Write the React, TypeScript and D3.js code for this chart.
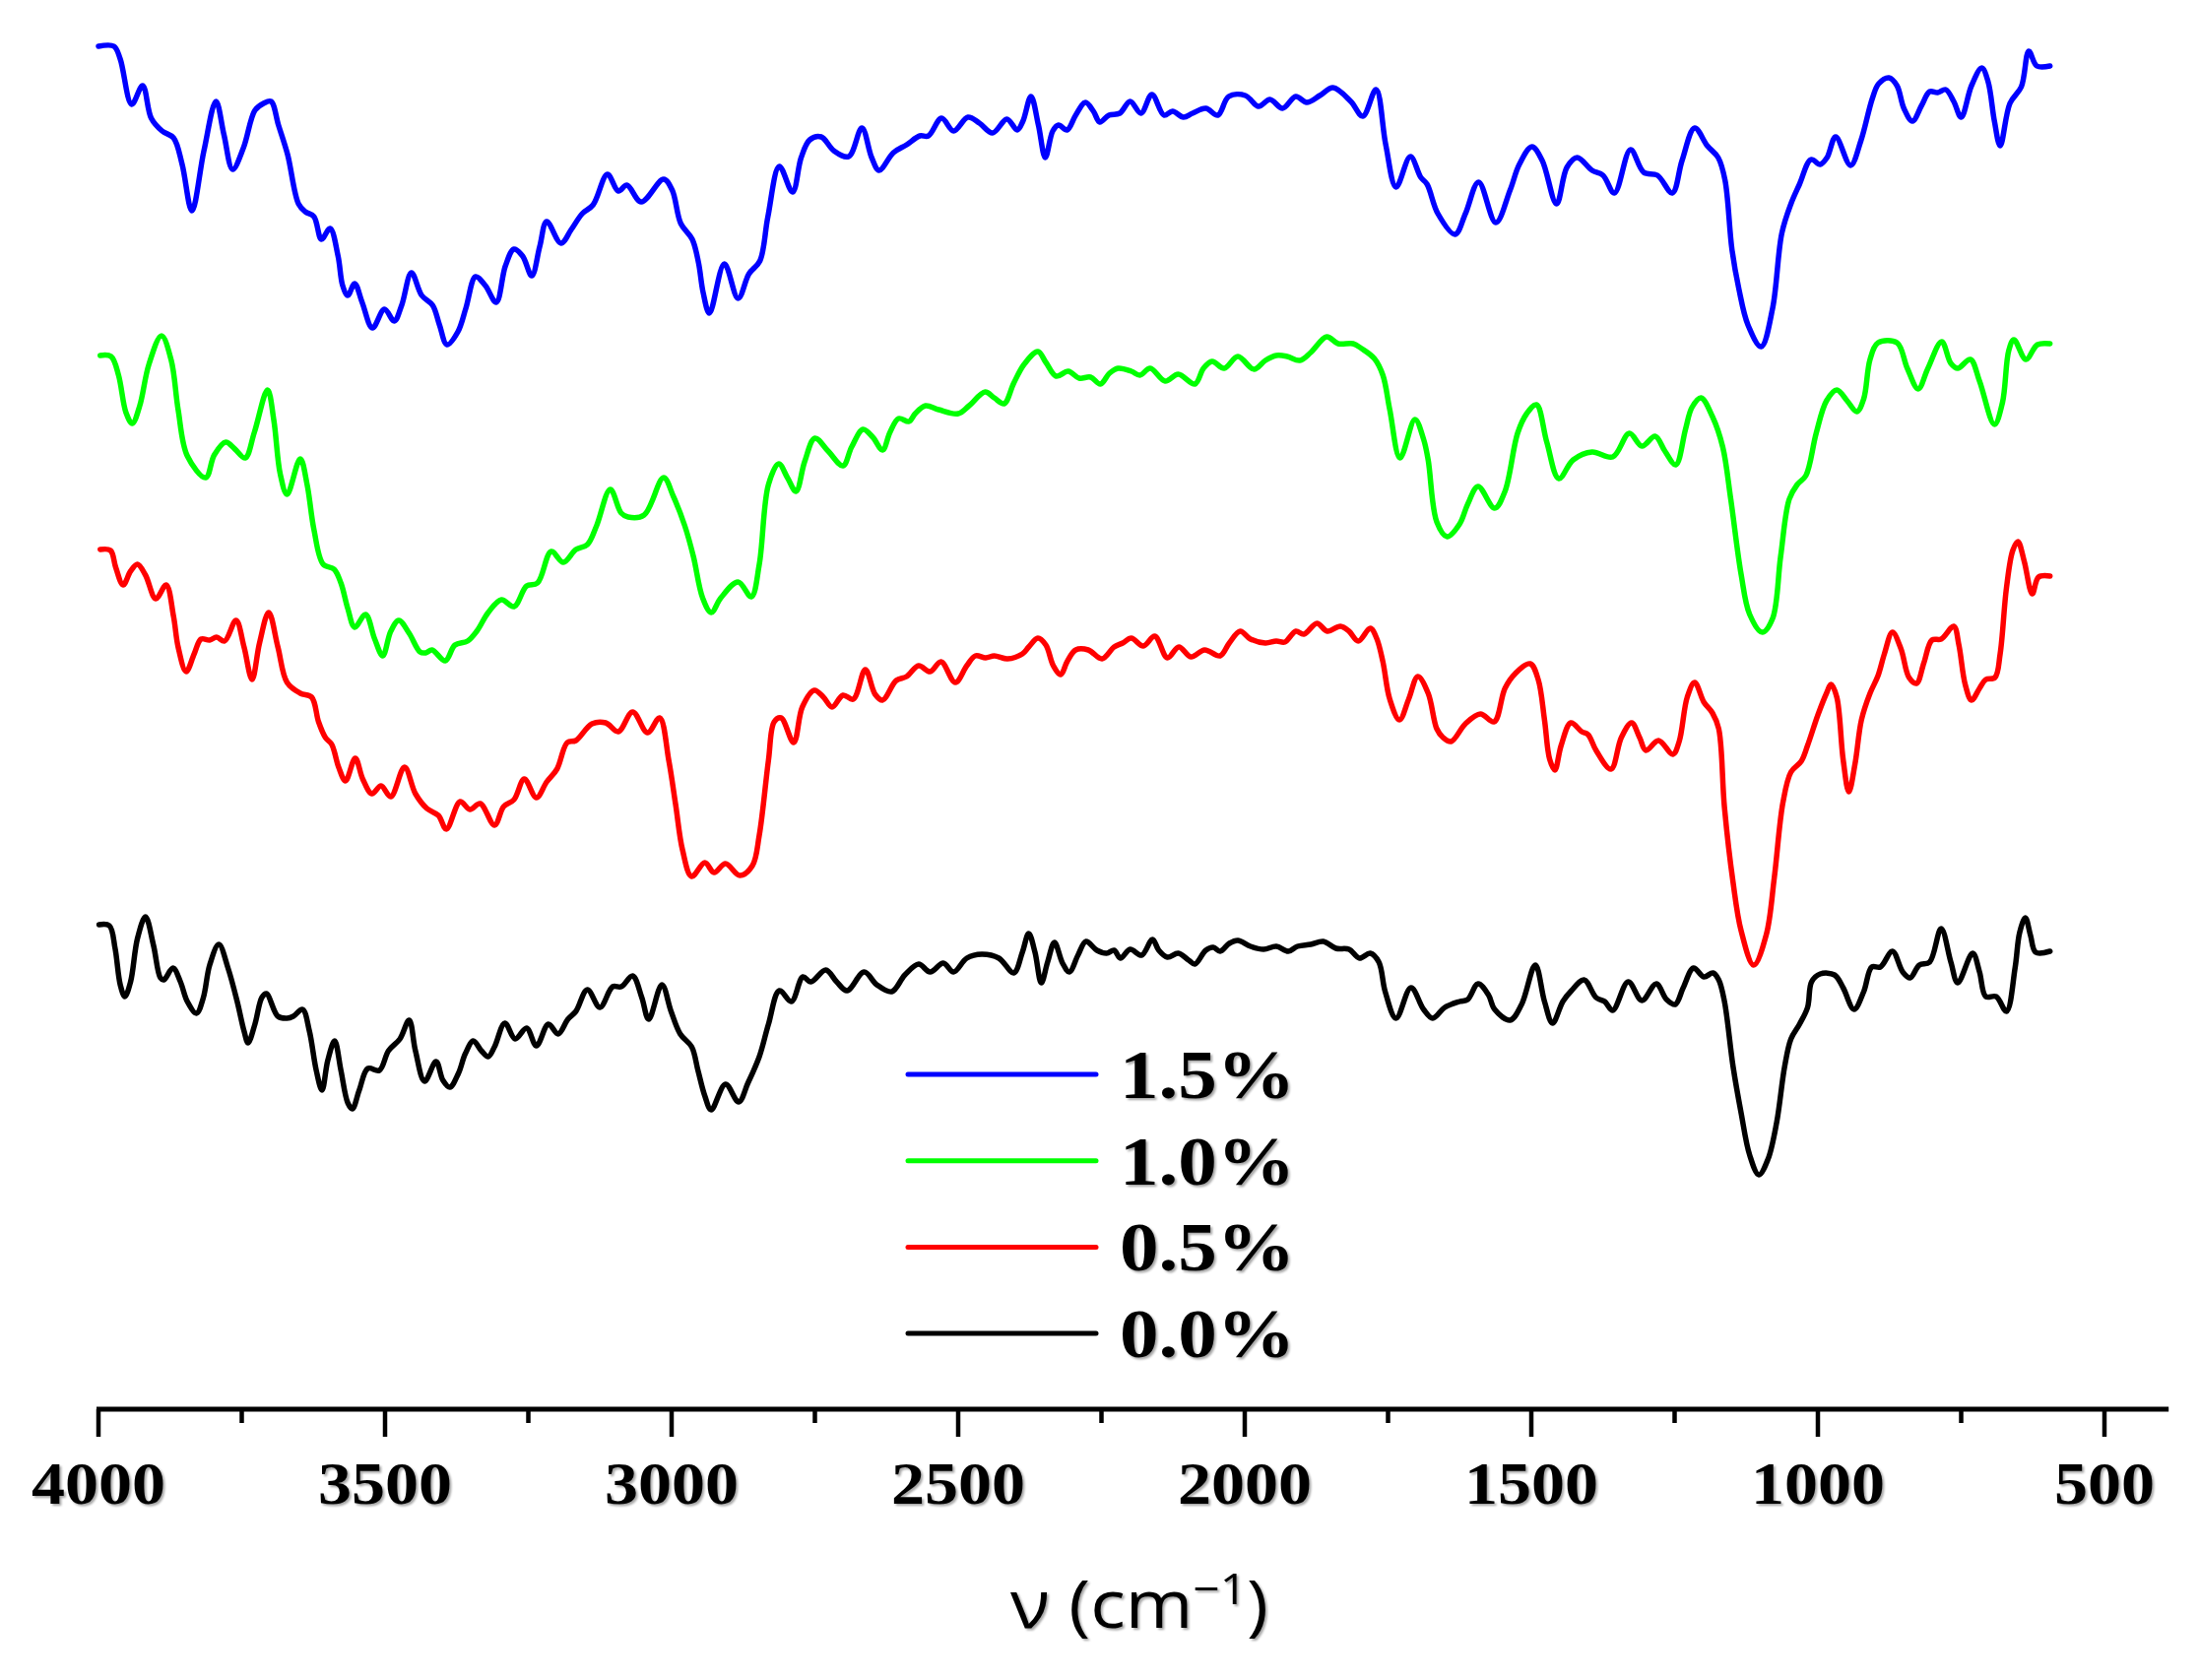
import React from "react";
import * as d3 from "d3";

// FTIR spectra, [wavenumber cm-1, transmittance a.u.]
const ftir15: [number, number][] = [
  [4000,138.4],[3973,138.4],[3962,137.1],[3942,132.5],[3923,134.4],[3908,131.1],[3889,129.8],[3869,129.1],[3854,126.4],[3837,121.7],
  [3816,127.8],[3795,132.8],[3781,129.4],[3766,125.9],[3747,128.1],[3727,131.9],[3712,132.6],[3699,132.8],[3686,130.4],[3670,127.4],
  [3651,122.4],[3639,121.6],[3624,121.1],[3611,118.8],[3596,119.9],[3582,117.1],[3574,114.1],[3565,113.1],[3553,114.3],[3540,112.4],
  [3522,109.8],[3501,111.7],[3484,110.5],[3471,112.1],[3454,115.4],[3436,113.1],[3417,112.1],[3405,110.1],[3392,108.1],[3373,109.4],
  [3359,111.8],[3342,115.0],[3325,114.1],[3306,112.4],[3290,116.1],[3275,117.8],[3260,117.1],[3244,115.1],[3230,118.1],[3218,120.6],
  [3193,118.4],[3175,119.8],[3156,121.4],[3137,122.3],[3112,125.4],[3093,123.7],[3078,124.3],[3053,122.6],[3014,124.9],[2999,123.8],
  [2984,120.4],[2964,118.8],[2953,116.4],[2945,113.4],[2934,111.3],[2908,116.3],[2884,112.8],[2865,115.3],[2846,116.6],[2832,121.1],
  [2812,126.2],[2789,123.6],[2774,127.1],[2759,128.9],[2739,129.2],[2717,127.8],[2691,127.2],[2668,130.1],[2651,127.1],[2638,125.8],
  [2613,127.6],[2590,128.4],[2567,129.3],[2552,129.3],[2529,131.1],[2508,129.8],[2483,131.2],[2463,130.6],[2440,129.6],[2415,131.0],
  [2397,129.9],[2387,130.8],[2373,133.3],[2360,130.4],[2348,127.1],[2335,129.8],[2325,130.4],[2310,129.9],[2295,131.4],[2278,132.7],
  [2264,131.8],[2253,130.7],[2237,131.4],[2218,131.6],[2200,132.8],[2181,131.6],[2162,133.5],[2141,131.4],[2126,131.8],[2107,131.2],
  [2091,131.6],[2068,132.1],[2047,131.4],[2028,133.3],[1999,133.4],[1976,132.3],[1956,133.0],[1934,132.1],[1911,133.3],[1892,132.7],
  [1869,133.4],[1846,134.2],[1815,132.8],[1794,131.3],[1771,134.0],[1754,128.4],[1736,124.1],[1711,127.2],[1693,125.1],[1682,124.4],
  [1663,121.4],[1633,119.3],[1615,121.4],[1592,124.6],[1562,120.5],[1537,123.8],[1521,126.4],[1499,128.2],[1481,126.8],[1456,122.4],
  [1438,126.1],[1420,127.1],[1394,125.8],[1375,125.3],[1355,123.5],[1327,127.9],[1304,125.6],[1280,125.3],[1254,123.5],[1237,126.8],
  [1215,130.1],[1193,128.3],[1174,127.1],[1162,124.8],[1150,117.8],[1138,113.8],[1122,110.1],[1099,107.9],[1079,111.8],[1063,119.4],
  [1047,122.4],[1032,124.4],[1012,126.9],[996,126.4],[984,127.1],[969,129.2],[943,126.3],[925,128.8],[905,133.1],[894,134.6],
  [876,135.2],[862,134.4],[850,132.1],[835,130.8],[819,132.4],[805,133.8],[791,133.7],[777,134.0],[763,132.8],[750,131.2],
  [732,134.4],[714,136.2],[703,134.8],[692,130.8],[682,128.3],[665,132.6],[645,134.3],[632,137.9],[618,136.4],[595,136.4],
];

const ftir10: [number, number][] = [
  [3997,107.0],[3978,106.9],[3965,105.0],[3952,101.2],[3941,100.1],[3928,101.9],[3912,106.1],[3890,109.0],[3873,106.5],[3861,101.5],
  [3845,96.8],[3813,94.6],[3798,96.9],[3778,98.2],[3762,97.5],[3744,96.6],[3728,99.2],[3705,103.5],[3694,100.4],[3683,95.0],
  [3671,92.9],[3648,96.5],[3636,93.9],[3624,89.3],[3608,85.8],[3589,85.3],[3577,83.9],[3565,81.3],[3553,79.4],[3534,80.7],
  [3518,78.2],[3504,76.5],[3490,79.0],[3476,80.1],[3458,78.8],[3439,76.9],[3429,76.8],[3418,77.1],[3395,76.0],[3378,77.6],
  [3356,78.0],[3340,79.0],[3320,80.9],[3297,82.2],[3275,81.5],[3253,83.6],[3234,83.9],[3210,87.1],[3189,86.0],[3167,87.3],
  [3147,87.8],[3131,89.7],[3107,93.4],[3088,91.0],[3076,90.6],[3048,90.8],[3014,94.6],[2997,92.7],[2977,89.7],[2962,86.6],
  [2946,82.4],[2931,80.9],[2914,82.4],[2884,84.0],[2861,82.5],[2847,85.8],[2831,93.9],[2813,96.0],[2798,94.6],[2783,93.2],
  [2768,96.2],[2750,98.6],[2727,97.3],[2701,95.8],[2686,97.7],[2666,99.5],[2649,98.7],[2632,97.4],[2619,99.2],[2604,100.6],
  [2586,100.3],[2575,101.1],[2557,101.9],[2534,101.5],[2500,101.1],[2481,101.9],[2453,103.3],[2437,102.7],[2420,102.1],[2403,104.2],
  [2385,106.1],[2361,107.4],[2347,106.3],[2329,104.9],[2308,105.4],[2289,104.7],[2269,104.8],[2252,104.1],[2236,105.2],[2221,105.7],
  [2198,105.4],[2183,105.0],[2165,105.7],[2139,104.4],[2116,105.1],[2087,104.1],[2072,105.7],[2057,106.4],[2036,105.7],[2012,106.9],
  [1984,105.6],[1964,106.5],[1945,107.0],[1926,106.9],[1904,106.5],[1885,107.3],[1857,108.9],[1837,108.2],[1811,108.2],[1796,107.7],
  [1774,106.7],[1759,105.0],[1747,101.5],[1729,96.6],[1703,100.5],[1688,98.5],[1680,96.4],[1665,90.1],[1647,88.6],[1625,89.9],
  [1611,91.9],[1593,93.7],[1564,91.5],[1546,93.2],[1524,99.1],[1508,101.1],[1491,102.0],[1473,98.2],[1452,94.5],[1427,96.4],
  [1394,97.2],[1358,96.7],[1329,99.1],[1307,97.8],[1284,98.8],[1267,97.3],[1248,95.9],[1231,99.5],[1220,101.7],[1204,102.7],
  [1184,100.8],[1166,97.7],[1152,92.4],[1134,84.8],[1119,80.7],[1097,78.9],[1079,80.3],[1065,86.6],[1050,92.4],[1036,93.9],
  [1021,94.8],[1003,99.1],[985,102.4],[967,103.5],[949,102.4],[932,101.3],[920,102.6],[909,106.6],[895,108.3],[862,108.3],
  [844,105.7],[825,103.6],[808,105.7],[784,108.4],[768,106.2],[756,105.7],[734,106.6],[718,104.4],[692,100.0],[678,102.2],
  [667,107.5],[658,108.6],[637,106.6],[617,108.1],[595,108.2],
];

const ftir05: [number, number][] = [
  [3997,87.3],[3979,87.2],[3970,85.5],[3957,83.7],[3944,85.1],[3932,85.8],[3918,84.7],[3900,82.3],[3882,83.7],[3869,80.5],
  [3861,77.4],[3847,74.9],[3833,76.7],[3821,78.2],[3806,78.1],[3794,78.4],[3780,78.0],[3760,80.1],[3746,77.4],[3732,74.1],
  [3719,77.8],[3703,80.9],[3687,77.4],[3671,73.8],[3648,72.7],[3628,72.3],[3616,69.8],[3604,68.2],[3593,67.5],[3581,65.2],
  [3569,63.8],[3552,66.1],[3539,64.0],[3523,62.5],[3507,63.3],[3490,62.2],[3466,65.2],[3447,62.5],[3427,61.0],[3407,60.3],
  [3393,58.9],[3369,61.7],[3352,60.9],[3334,61.5],[3309,59.3],[3293,61.2],[3275,61.9],[3257,64.0],[3236,62.1],[3218,63.7],
  [3200,65.0],[3182,67.7],[3167,67.9],[3139,69.6],[3115,69.7],[3093,68.8],[3068,70.8],[3042,68.7],[3021,70.2],[3005,65.9],
  [2993,61.4],[2981,56.8],[2965,54.1],[2942,55.5],[2926,54.5],[2906,55.4],[2881,54.2],[2859,55.2],[2847,58.3],[2831,65.9],
  [2821,69.8],[2809,70.2],[2787,67.7],[2772,71.3],[2751,73.0],[2735,72.3],[2720,71.3],[2701,72.5],[2683,72.1],[2662,75.1],
  [2645,72.6],[2632,72.0],[2608,74.0],[2590,74.4],[2569,75.5],[2549,74.9],[2530,75.9],[2505,73.8],[2485,75.5],[2470,76.5],
  [2452,76.3],[2437,76.5],[2414,76.2],[2388,76.7],[2377,77.4],[2361,78.3],[2347,77.6],[2334,75.5],[2321,74.6],[2310,75.9],
  [2295,77.1],[2273,77.1],[2249,76.2],[2228,77.4],[2213,77.8],[2198,78.3],[2177,77.5],[2157,78.5],[2135,76.3],[2115,77.4],
  [2094,76.4],[2070,77.1],[2043,76.5],[2027,77.8],[2008,79.0],[1990,78.2],[1964,77.8],[1945,78.0],[1930,77.9],[1911,79.0],
  [1897,78.7],[1874,79.8],[1856,79.0],[1833,79.5],[1818,79.0],[1802,78.0],[1781,79.3],[1770,78.3],[1759,75.9],[1747,72.1],
  [1730,70.0],[1714,72.1],[1698,74.4],[1680,72.7],[1665,69.1],[1654,68.2],[1640,67.8],[1615,69.6],[1589,70.6],[1565,69.8],
  [1546,73.2],[1528,74.7],[1502,75.7],[1488,74.1],[1477,70.0],[1468,66.0],[1459,64.9],[1448,67.4],[1431,69.7],[1412,68.8],
  [1401,68.5],[1387,66.9],[1361,65.0],[1343,68.2],[1325,69.7],[1311,68.2],[1300,66.9],[1278,67.9],[1253,66.5],[1242,67.8],
  [1228,72.3],[1215,73.8],[1199,71.8],[1184,70.7],[1173,69.1],[1163,61.1],[1148,53.5],[1134,48.6],[1112,45.1],[1090,48.2],
  [1076,54.0],[1061,61.6],[1047,64.7],[1029,65.8],[1018,67.4],[1000,70.5],[985,72.7],[977,73.6],[967,72.3],[956,66.0],
  [946,62.7],[935,65.6],[924,70.0],[909,72.7],[895,74.5],[884,76.7],[870,78.9],[855,77.2],[841,74.3],[828,73.7],
  [815,75.8],[801,78.1],[785,78.2],[763,79.5],[754,77.6],[743,73.6],[732,72.0],[718,73.2],[707,74.1],[691,74.3],
  [682,76.7],[671,83.4],[660,87.2],[651,88.1],[640,86.1],[626,82.8],[615,84.5],[595,84.6],
];

const ftir00: [number, number][] = [
  [3999,49.2],[3981,49.1],[3971,46.8],[3962,43.1],[3954,41.9],[3944,43.4],[3932,47.8],[3918,50.0],[3904,47.1],[3892,43.8],
  [3886,43.6],[3870,44.8],[3857,43.4],[3845,41.4],[3829,40.2],[3817,41.8],[3806,45.1],[3790,47.2],[3774,44.8],[3758,41.4],
  [3746,38.4],[3739,37.2],[3727,39.1],[3715,41.8],[3707,42.2],[3687,39.9],[3671,39.7],[3660,39.9],[3644,40.6],[3632,38.4],
  [3620,34.4],[3610,32.4],[3600,35.4],[3588,37.4],[3577,34.4],[3565,31.1],[3557,30.5],[3545,32.4],[3530,34.6],[3510,34.4],
  [3494,36.4],[3474,37.6],[3458,39.5],[3447,36.4],[3431,33.3],[3411,35.3],[3399,33.4],[3387,32.7],[3372,34.1],[3360,36.1],
  [3346,37.4],[3332,36.4],[3320,35.8],[3309,36.8],[3291,39.2],[3273,37.6],[3253,38.7],[3236,36.9],[3215,39.1],[3198,38.1],
  [3181,39.6],[3167,40.4],[3147,42.6],[3125,40.8],[3103,42.9],[3088,42.9],[3068,44.0],[3052,41.8],[3040,39.6],[3017,43.1],
  [3001,40.4],[2985,38.1],[2965,36.8],[2954,34.4],[2942,31.8],[2931,30.4],[2906,33.0],[2883,31.2],[2867,33.1],[2847,35.8],
  [2831,39.1],[2812,42.5],[2791,41.4],[2771,43.9],[2757,43.4],[2731,44.6],[2712,43.4],[2694,42.5],[2664,44.4],[2642,43.1],
  [2616,42.4],[2593,44.1],[2569,45.2],[2549,44.4],[2526,45.3],[2508,44.4],[2485,45.8],[2459,46.2],[2429,45.8],[2403,44.3],
  [2388,46.4],[2377,48.3],[2366,46.4],[2355,43.3],[2344,45.4],[2332,47.4],[2318,45.3],[2306,44.4],[2291,46.1],[2277,47.5],
  [2258,46.6],[2241,46.3],[2228,46.6],[2217,45.8],[2200,46.7],[2180,46.1],[2161,47.7],[2150,46.6],[2135,45.9],[2116,46.3],
  [2098,45.6],[2087,45.2],[2068,46.6],[2055,46.9],[2043,46.5],[2027,47.3],[2012,47.6],[1990,47.0],[1967,46.7],[1945,47.0],
  [1924,46.5],[1908,47.0],[1885,47.2],[1863,47.5],[1841,46.8],[1818,46.7],[1800,45.8],[1781,46.3],[1766,45.4],[1755,42.4],
  [1736,39.7],[1710,42.8],[1688,40.6],[1672,39.7],[1651,40.8],[1625,41.4],[1611,41.6],[1593,43.2],[1575,42.1],[1564,40.6],
  [1537,39.5],[1517,41.1],[1493,45.1],[1477,41.4],[1463,39.2],[1445,41.4],[1430,42.5],[1408,43.6],[1387,41.8],[1372,41.4],
  [1358,40.5],[1331,43.4],[1307,41.5],[1282,43.2],[1264,41.6],[1249,41.1],[1235,42.8],[1217,44.8],[1199,43.9],[1183,44.3],
  [1173,43.6],[1163,41.4],[1148,34.8],[1134,30.1],[1119,25.8],[1103,23.8],[1087,25.4],[1072,29.1],[1058,34.8],[1047,37.6],
  [1032,39.1],[1018,40.8],[1011,43.4],[996,44.2],[971,44.1],[956,42.8],[937,40.6],[920,42.4],[906,44.9],[891,44.9],
  [870,46.5],[852,44.4],[839,43.8],[823,45.1],[805,45.4],[785,48.8],[768,45.4],[756,43.3],[730,46.3],[718,44.4],
  [707,41.9],[689,41.9],[671,40.4],[656,44.8],[648,48.4],[638,49.9],[629,48.1],[620,46.4],[595,46.5],
];

const seriesLabels = ["1.5%", "1.0%", "0.5%", "0.0%"];
const seriesColors = ["#0000ff", "#00ff00", "#ff0000", "#000000"];
const seriesData = [ftir15, ftir10, ftir05, ftir00];

const majorTicks = [4000, 3500, 3000, 2500, 2000, 1500, 1000, 500];
const minorTicks = [3750, 3250, 2750, 2250, 1750, 1250, 750];
const axisEnd = 388;

export default function App() {
  const width = 2233;
  const height = 1706;

  const xScale = d3.scaleLinear().domain([4000, 500]).range([100, 2137]);
  const yScale = d3.scaleLinear().domain([0, 140]).range([1431, 31]);

  const line = d3
    .line<[number, number]>()
    .x((d) => xScale(d[0]))
    .y((d) => yScale(d[1]))
    .curve(d3.curveCatmullRom.alpha(0.5));

  const axisY = yScale(0);
  const legend = { x1: 922, x2: 1113, textX: 1137, top: 1091, step: 87.7 };
  const serif = "'Liberation Serif', 'Times New Roman', Times, serif";

  return (
    <svg
      width={width}
      height={height}
      style={{ position: "absolute", left: 0, top: 0, background: "#fff" }}
    >
      <defs>
        <filter id="shadow" x="-10%" y="-10%" width="130%" height="140%">
          <feDropShadow dx="2" dy="2" stdDeviation="1.3" floodColor="#000" floodOpacity="0.35" />
        </filter>
      </defs>
      <rect width={width} height={height} fill="#fff" />

      {/* spectra */}
      {seriesData.map((s, i) => (
        <path
          key={seriesLabels[i]}
          d={line(s) ?? ""}
          fill="none"
          stroke={seriesColors[i]}
          strokeWidth={5.5}
          strokeLinejoin="round"
          strokeLinecap="round"
        />
      ))}

      {/* bottom axis */}
      <line x1={xScale(4000) - 2} x2={xScale(axisEnd)} y1={axisY} y2={axisY} stroke="#000" strokeWidth={5} />
      {majorTicks.map((t) => (
        <line key={"M" + t} x1={xScale(t)} x2={xScale(t)} y1={axisY} y2={axisY + 28} stroke="#000" strokeWidth={4.5} />
      ))}
      {minorTicks.map((t) => (
        <line key={"m" + t} x1={xScale(t)} x2={xScale(t)} y1={axisY} y2={axisY + 14} stroke="#000" strokeWidth={4.5} />
      ))}
      {majorTicks.map((t) => (
        <text
          key={"l" + t}
          x={xScale(t)}
          y={axisY + 96}
          textAnchor="middle"
          fontFamily={serif}
          fontWeight="bold"
          fontSize={62}
          textLength={String(t).length * 34}
          lengthAdjust="spacingAndGlyphs"
          filter="url(#shadow)"
        >
          {t}
        </text>
      ))}

      {/* axis title */}
      <text
        x={1157}
        y={1653}
        textAnchor="middle"
        fontFamily="'Open Sans', 'Noto Sans', sans-serif"
        fontSize={68}
        textLength={262}
        lengthAdjust="spacingAndGlyphs"
        filter="url(#shadow)"
      >
        ν (cm<tspan fontSize={44} dy={-24}>−1</tspan>
        <tspan fontSize={68} dy={24}>)</tspan>
      </text>

      {/* legend */}
      {seriesLabels.map((lab, i) => {
        const y = legend.top + i * legend.step;
        return (
          <g key={"leg" + lab}>
            <line x1={legend.x1} x2={legend.x2} y1={y} y2={y} stroke={seriesColors[i]} strokeWidth={5} strokeLinecap="round" />
            <text
              x={legend.textX}
              y={y + 24}
              fontFamily={serif}
              fontWeight="bold"
              fontSize={70}
              textLength={178}
              lengthAdjust="spacingAndGlyphs"
              filter="url(#shadow)"
            >
              {lab}
            </text>
          </g>
        );
      })}
    </svg>
  );
}
